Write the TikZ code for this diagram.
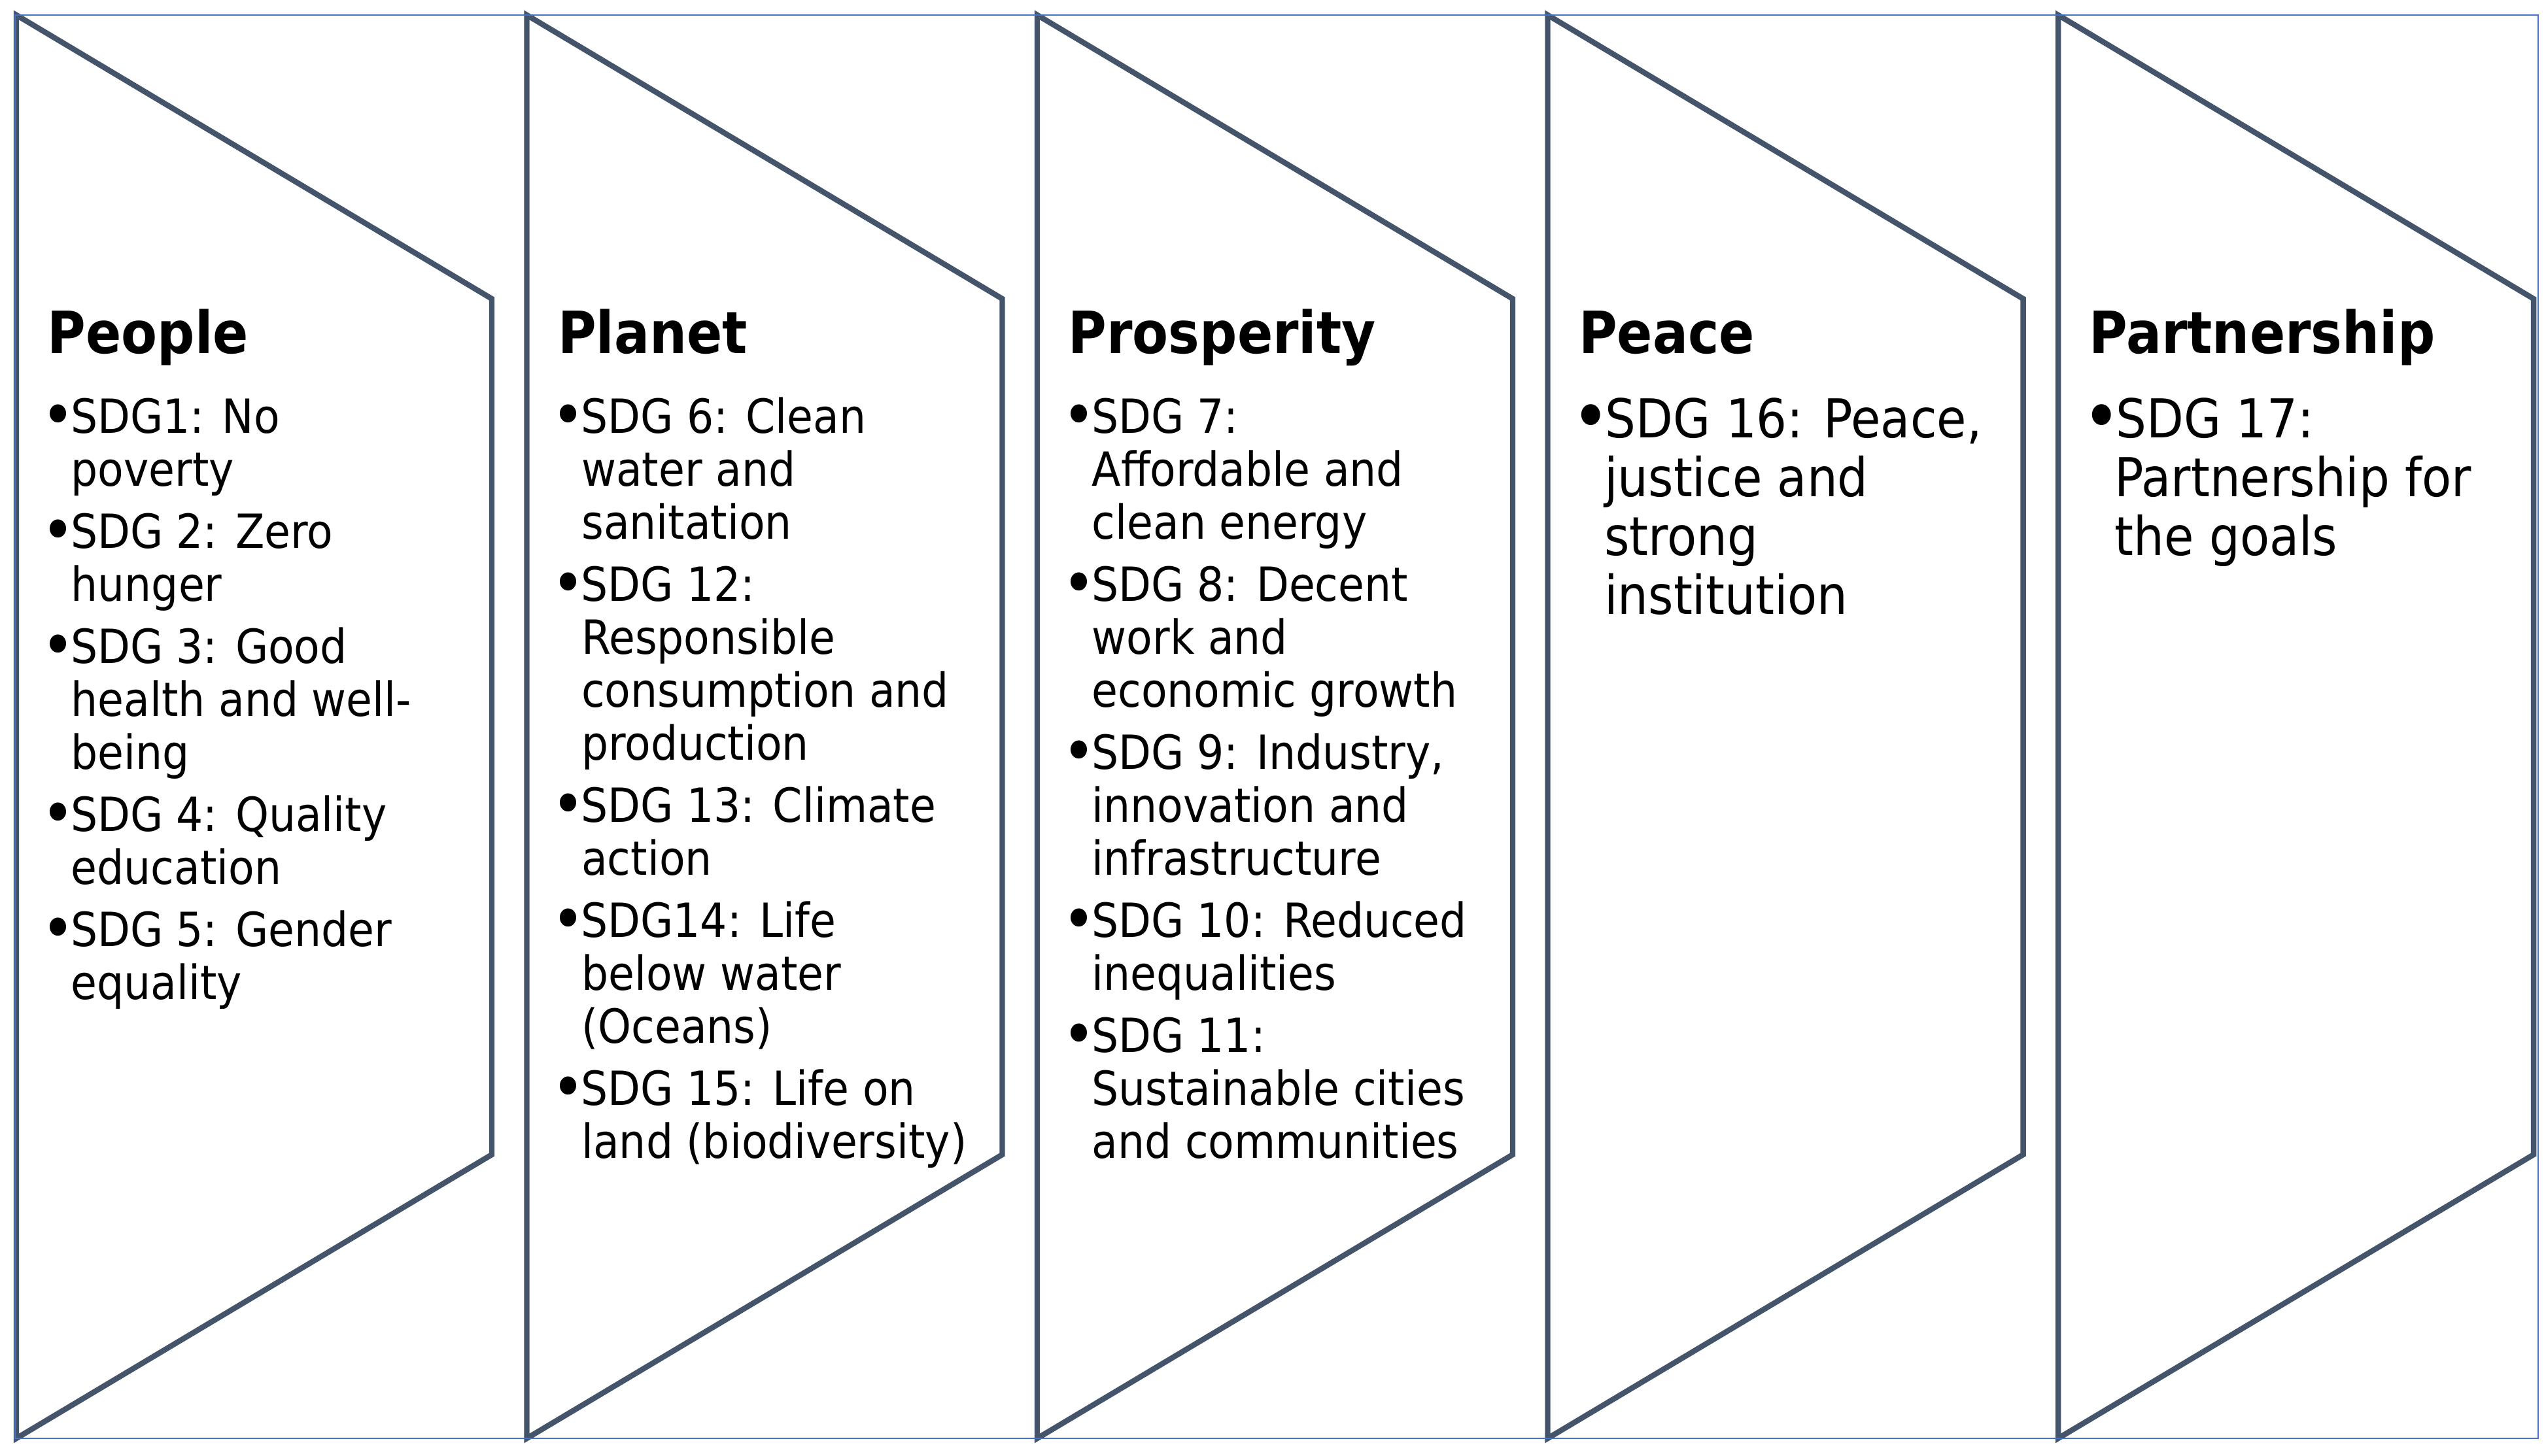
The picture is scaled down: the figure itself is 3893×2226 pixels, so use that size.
\documentclass[tikz,border=0pt]{standalone}
\usepackage{fontspec}
\setmainfont{DejaVu Sans Condensed}
\definecolor{shapeline}{HTML}{44546A}
\definecolor{frameblue}{HTML}{4472C4}
\newcommand\bodyf{\fontsize{18pt}{20pt}\selectfont}
\newcommand\bigbodyf{\fontsize{20.5pt}{22.5pt}\selectfont}
\newcommand\headf{\fontsize{22.25pt}{24pt}\selectfont\bfseries}
% bigger bullet kept in the advance width of the normal one
\newcommand\mybul[2]{\setbox0\hbox{•}\hbox to \wd0{\hss\raisebox{#2}{\fontsize{#1}{#1}\selectfont •}\hss}}
\newcommand\smbul{\mybul{24pt}{-1.5pt}}
\newcommand\bgbul{\mybul{27.5pt}{-1.7pt}}
\begin{document}
\begin{tikzpicture}[x=0.25pt,y=-0.25pt,
  chev/.style={draw=shapeline,line width=2.1pt,line join=miter,fill=white},
  frame/.style={draw=frameblue,line width=0.7pt},
  head/.style={anchor=base west,inner sep=0pt,font=\headf},
  ln/.style={anchor=base west,inner sep=0pt,font=\bodyf},
  bln/.style={anchor=base west,inner sep=0pt,font=\bigbodyf}]
\useasboundingbox (0,0) rectangle (3893,2226);
% chevron shapes
\foreach \L in {25,805.5,1586,2366.5,3147}{
  \draw[chev] (\L,23) -- ({\L+727},457) -- ({\L+727},1766) -- (\L,2200) -- cycle;
}
% outer frame
\draw[frame] (23,23) rectangle (3881,2200);
% ---------- column 1 : People
\node[head] (h1) at (72,540) {People};
\node[ln] (a1) at (69,662) {\smbul SDG1: No};
\node[ln] (a2) at (108,743) {poverty};
\node[ln] (a3) at (69,838) {\smbul SDG 2: Zero};
\node[ln] (a4) at (108,919) {hunger};
\node[ln] (a5) at (69,1014) {\smbul SDG 3: Good};
\node[ln] (a6) at (108,1095) {health and well-};
\node[ln] (a7) at (108,1176) {being};
\node[ln] (a8) at (69,1271) {\smbul SDG 4: Quality};
\node[ln] (a9) at (108,1352) {education};
\node[ln] (a10) at (69,1447) {\smbul SDG 5: Gender};
\node[ln] (a11) at (108,1528) {equality};
% ---------- column 2 : Planet
\node[head] (h2) at (852.5,540) {Planet};
\node[ln] (b1) at (849.5,662) {\smbul SDG 6: Clean};
\node[ln] (b2) at (888.5,743) {water and};
\node[ln] (b3) at (888.5,824) {sanitation};
\node[ln] (b4) at (849.5,919) {\smbul SDG 12:};
\node[ln] (b5) at (888.5,1000) {Responsible};
\node[ln] (b6) at (888.5,1081) {consumption and};
\node[ln] (b7) at (888.5,1162) {production};
\node[ln] (b8) at (849.5,1257) {\smbul SDG 13: Climate};
\node[ln] (b9) at (888.5,1338) {action};
\node[ln] (b10) at (849.5,1433) {\smbul SDG14: Life};
\node[ln] (b11) at (888.5,1514) {below water};
\node[ln] (b12) at (888.5,1595) {(Oceans)};
\node[ln] (b13) at (849.5,1690) {\smbul SDG 15: Life on};
\node[ln] (b14) at (888.5,1771) {land (biodiversity)};
% ---------- column 3 : Prosperity
\node[head] (h3) at (1633,540) {Prosperity};
\node[ln] (c1) at (1630,662) {\smbul SDG 7:};
\node[ln] (c2) at (1669,743) {Affordable and};
\node[ln] (c3) at (1669,824) {clean energy};
\node[ln] (c4) at (1630,919) {\smbul SDG 8: Decent};
\node[ln] (c5) at (1669,1000) {work and};
\node[ln] (c6) at (1669,1081) {economic growth};
\node[ln] (c7) at (1630,1176) {\smbul SDG 9: Industry,};
\node[ln] (c8) at (1669,1257) {innovation and};
\node[ln] (c9) at (1669,1338) {infrastructure};
\node[ln] (c10) at (1630,1433) {\smbul SDG 10: Reduced};
\node[ln] (c11) at (1669,1514) {inequalities};
\node[ln] (c12) at (1630,1609) {\smbul SDG 11:};
\node[ln] (c13) at (1669,1690) {Sustainable cities};
\node[ln] (c14) at (1669,1771) {and communities};
% ---------- column 4 : Peace
\node[head] (h4) at (2413.5,540) {Peace};
\node[bln] (d1) at (2410.5,669) {\bgbul SDG 16: Peace,};
\node[bln] (d2) at (2452.5,759) {justice and};
\node[bln] (d3) at (2452.5,849) {strong};
\node[bln] (d4) at (2452.5,939) {institution};
% ---------- column 5 : Partnership
\node[head] (h5) at (3194,540) {Partnership};
\node[bln] (e1) at (3191,669) {\bgbul SDG 17:};
\node[bln] (e2) at (3233,759) {Partnership for};
\node[bln] (e3) at (3233,849) {the goals};
\end{tikzpicture}
\end{document}
